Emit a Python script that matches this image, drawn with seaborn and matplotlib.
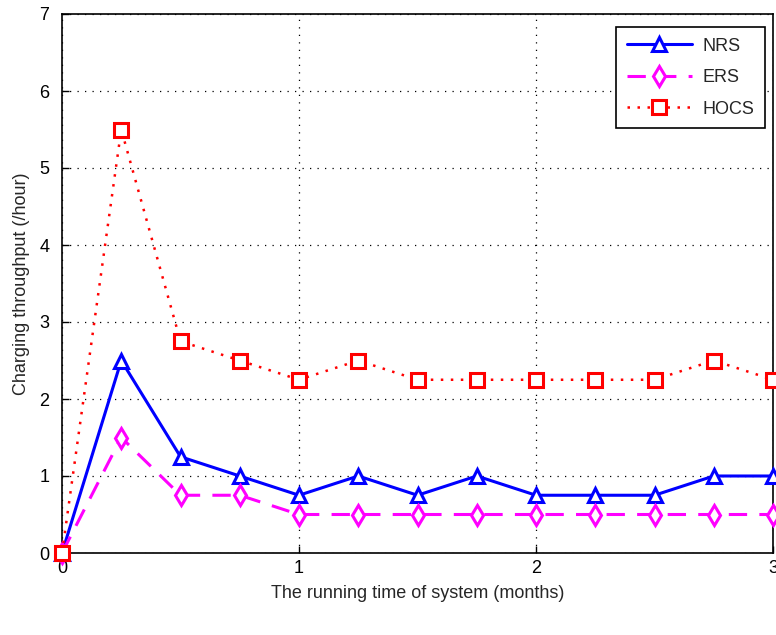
import matplotlib
matplotlib.use("Agg")
import matplotlib.pyplot as plt
import seaborn as sns
import pandas as pd

months = [0, 0.25, 0.5, 0.75, 1.0, 1.25, 1.5, 1.75, 2.0, 2.25, 2.5, 2.75, 3.0]
nrs = [0, 2.5, 1.25, 1.0, 0.75, 1.0, 0.75, 1.0, 0.75, 0.75, 0.75, 1.0, 1.0]
ers = [0, 1.5, 0.75, 0.75, 0.5, 0.5, 0.5, 0.5, 0.5, 0.5, 0.5, 0.5, 0.5]
hocs = [0, 5.5, 2.75, 2.5, 2.25, 2.5, 2.25, 2.25, 2.25, 2.25, 2.25, 2.5, 2.25]
series_names = ["NRS", "ERS", "HOCS"]
x_ticks = [0, 1, 2, 3]
y_ticks = [0, 1, 2, 3, 4, 5, 6, 7]

sns.set_style("white")
plt.rcParams['font.family'] = ['Liberation Sans', 'DejaVu Sans']

fig = plt.figure(figsize=(7.76, 6.35), dpi=100)
ax = fig.add_axes([62/776, (635-553)/635, (773-62)/776, (553-14)/635])

styles = {
    "NRS": dict(color="#0000ff", marker="^", linestyle="-", linewidth=2.2),
    "ERS": dict(color="#ff00ff", marker="d", linestyle=(0, (6, 4)), linewidth=2.2),
    "HOCS": dict(color="#ff0000", marker="s", linestyle=(0, (1, 3)), linewidth=1.8),
}
data = {"NRS": nrs, "ERS": ers, "HOCS": hocs}
for name in series_names:
    df = pd.DataFrame({"x": months, "y": data[name]})
    st = styles[name]
    sns.lineplot(data=df, x="x", y="y", ax=ax, label=name,
                 color=st["color"], marker=st["marker"], linestyle=st["linestyle"],
                 linewidth=st["linewidth"], markersize=10, markerfacecolor="white",
                 markeredgecolor=st["color"], markeredgewidth=2.2, clip_on=False,
                 zorder=3)

ax.set_xlim(0, 3)
ax.set_ylim(0, 7)
ax.set_xticks(x_ticks)
ax.set_yticks(y_ticks)
ax.set_xticklabels([str(t) for t in x_ticks])
ax.set_yticklabels([str(t) for t in y_ticks])
ax.grid(True, color="black", linestyle=(0, (1, 5)), linewidth=0.9)
ax.tick_params(direction="in", length=5, width=1, labelsize=13, colors="black",
               top=False, right=False, left=True, bottom=True)
ax.tick_params(axis="y", pad=9)
ax.tick_params(axis="x", pad=5)
for s in ax.spines.values():
    s.set_color("black")
    s.set_linewidth(1.2)
ax.set_xlabel("The running time of system (months)", fontsize=13, labelpad=6)
ax.set_ylabel("Charging throughput (/hour)", fontsize=13, labelpad=7)

leg = ax.legend(loc="upper right", bbox_to_anchor=(0.989, 0.976), borderaxespad=0,
                fontsize=13, frameon=True, fancybox=False, edgecolor="black",
                framealpha=1, handlelength=3.6, borderpad=0.6, labelspacing=0.8,
                handletextpad=0.6)
leg.get_frame().set_linewidth(1.2)

fig.savefig("out.png", dpi=100)
